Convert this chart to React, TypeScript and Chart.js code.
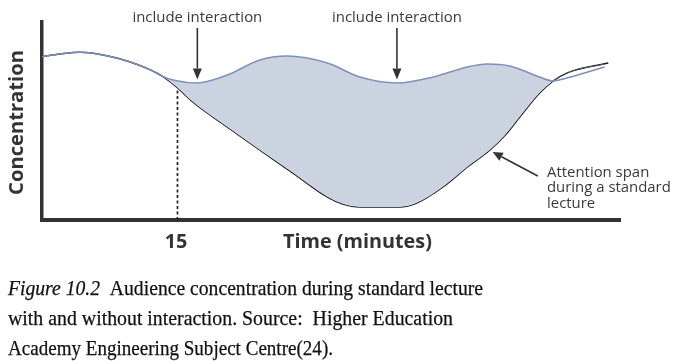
import React, { useEffect, useRef } from "react";
import { Chart, registerables } from "chart.js";

Chart.register(...registerables);

// Time in minutes (x) and concentration level (y, 0-100)
const standardX = [0, 2, 4.2, 7.2, 9.7, 12, 13.4, 14.9, 16.7, 20.5, 24.1, 27.8, 31.6, 33.3, 35.2, 39.6, 41.5, 44.4, 47.1, 49.6, 51.3, 52.9, 55.1, 56.6, 58.1, 62.7];
const standardY = [82.5, 83.8, 84.7, 83.0, 79.9, 75.8, 72.4, 67.2, 59.6, 47.0, 35.4, 23.7, 11.6, 8.1, 6.6, 6.6, 8.6, 16.7, 26.8, 35.4, 42.9, 52.0, 64.1, 70.2, 74.2, 79.3];

const interactionX = [0, 2, 4.2, 7.2, 9.7, 12, 13.4, 14.6, 17.2, 20.5, 24.1, 27.1, 31.6, 35.2, 39.3, 43.3, 47.1, 49.3, 51.8, 55.1, 56.6, 58.1, 62.3];
const interactionY = [82.5, 83.8, 84.7, 83.0, 79.9, 75.8, 72.4, 70.6, 69.2, 73.2, 80.8, 82.8, 79.3, 72.2, 69.2, 72.2, 77.3, 78.8, 77.8, 72.2, 70.2, 71.7, 77.3];

const markerX = [15, 15];
const markerY = [0, 67.2];

const interactionLabels = ["include interaction", "include interaction"];
const interactionArrowX = [17.2, 39.3];
const interactionArrowTopY = [97, 97];
const interactionArrowTipY = [71, 71];

const spanLabelLines = ["Attention span", "during a standard", "lecture"];
const spanArrowFrom = [54.9, 22.2];
const spanArrowTo = [49.9, 34.3];

const xTickValue = 15;
const xTickLabel = "15";
const xTitle = "Time (minutes)";
const yTitle = "Concentration";

const captionItalic = "Figure 10.2";
const captionLines = [
  "  Audience concentration during standard lecture",
  "with and without interaction. Source:  Higher Education",
  "Academy Engineering Subject Centre(24).",
];

const SANS = "'Open Sans', 'DejaVu Sans', sans-serif";
const SERIF = "'Liberation Serif', 'DejaVu Serif', serif";

function fitSize(ctx: CanvasRenderingContext2D, text: string, weight: string, family: string, target: number) {
  ctx.font = `${weight} 20px ${family}`;
  const w = ctx.measureText(text).width;
  return (20 * target) / w;
}

function drawArrow(ctx: CanvasRenderingContext2D, x1: number, y1: number, x2: number, y2: number, len: number, half: number) {
  const ang = Math.atan2(y2 - y1, x2 - x1);
  const bx = x2 - len * Math.cos(ang);
  const by = y2 - len * Math.sin(ang);
  ctx.beginPath();
  ctx.moveTo(x1, y1);
  ctx.lineTo(bx, by);
  ctx.stroke();
  ctx.beginPath();
  ctx.moveTo(x2, y2);
  ctx.lineTo(bx + half * Math.sin(ang), by - half * Math.cos(ang));
  ctx.lineTo(bx - half * Math.sin(ang), by + half * Math.cos(ang));
  ctx.closePath();
  ctx.fill();
}

const annotations = {
  id: "annotations",
  afterDraw(chart: any) {
    const ctx: CanvasRenderingContext2D = chart.ctx;
    const xs = chart.scales.x;
    const ys = chart.scales.y;
    ctx.save();
    ctx.fillStyle = "#333";
    ctx.strokeStyle = "#333";
    ctx.lineWidth = 1.6;

    // interaction arrows
    const s1 = fitSize(ctx, interactionLabels[0], "400", SANS, 130);
    interactionLabels.forEach((lab, i) => {
      const px = xs.getPixelForValue(interactionArrowX[i]);
      drawArrow(ctx, px, ys.getPixelForValue(interactionArrowTopY[i]), px, ys.getPixelForValue(interactionArrowTipY[i]), 11, 4.5);
      ctx.font = `400 ${s1}px ${SANS}`;
      ctx.textAlign = "center";
      ctx.textBaseline = "alphabetic";
      ctx.fillStyle = "#3a3a3a";
      ctx.fillText(lab, px, 22);
      ctx.fillStyle = "#333";
    });

    // attention span arrow
    const ax1 = xs.getPixelForValue(spanArrowFrom[0]);
    const ay1 = ys.getPixelForValue(spanArrowFrom[1]);
    const ax2 = xs.getPixelForValue(spanArrowTo[0]);
    const ay2 = ys.getPixelForValue(spanArrowTo[1]);
    drawArrow(ctx, ax1, ay1, ax2, ay2, 10, 4.5);
    const s2 = fitSize(ctx, spanLabelLines[1], "400", SANS, 124);
    ctx.font = `400 ${s2}px ${SANS}`;
    ctx.textAlign = "left";
    ctx.fillStyle = "#3a3a3a";
    spanLabelLines.forEach((l, i) => ctx.fillText(l, 547, 176.5 + i * 15.5));

    // axis labels
    ctx.fillStyle = "#333";
    const s3 = fitSize(ctx, xTitle, "700", SANS, 149);
    ctx.font = `700 ${s3}px ${SANS}`;
    ctx.textAlign = "left";
    ctx.fillText(xTitle, 283, 248);
    ctx.textAlign = "center";
    ctx.fillText(xTickLabel, xs.getPixelForValue(xTickValue) - 1.5, 248);

    const s4 = fitSize(ctx, yTitle, "700", SANS, 145);
    ctx.save();
    ctx.translate(23, 122.5);
    ctx.rotate(-Math.PI / 2);
    ctx.font = `700 ${s4}px ${SANS}`;
    ctx.textAlign = "center";
    ctx.fillText(yTitle, 0, 0);
    ctx.restore();

    // caption
    ctx.fillStyle = "#111";
    ctx.strokeStyle = "#111";
    ctx.lineWidth = 0.25;
    ctx.textAlign = "left";
    const targets = [475, 445, 325];
    const baselines = [294.5, 324.5, 354.5];
    captionLines.forEach((line, i) => {
      const parts: { t: string; f: string }[] = [];
      if (i === 0) parts.push({ t: captionItalic, f: `italic 21px ${SERIF}` });
      parts.push({ t: line, f: `21px ${SERIF}` });
      let total = 0;
      parts.forEach((p) => {
        ctx.font = p.f;
        total += ctx.measureText(p.t).width;
      });
      const sc = targets[i] / total;
      ctx.save();
      ctx.translate(8, baselines[i]);
      ctx.scale(sc, 1);
      let cx = 0;
      parts.forEach((p) => {
        ctx.font = p.f;
        ctx.fillText(p.t, cx, 0);
        ctx.strokeText(p.t, cx, 0);
        cx += ctx.measureText(p.t).width;
      });
      ctx.restore();
    });
    ctx.restore();
  },
};

export default function App() {
  const ref = useRef<HTMLCanvasElement | null>(null);
  useEffect(() => {
    if (!ref.current) return;
    const pts = (xa: number[], ya: number[]) => xa.map((x, i) => ({ x, y: ya[i] }));
    const chart = new Chart(ref.current, {
      type: "line",
      data: {
        datasets: [
          {
            label: "With interaction",
            data: pts(interactionX, interactionY),
            borderColor: "#7d91bd",
            borderWidth: 1.5,
            pointRadius: 0,
            cubicInterpolationMode: "monotone",
            fill: { target: 1, above: "#cbd2e0", below: "rgba(0,0,0,0)" },
          },
          {
            label: "Standard lecture",
            data: pts(standardX, standardY),
            borderColor: "#1c1c1c",
            borderWidth: 1.5,
            pointRadius: 0,
            cubicInterpolationMode: "monotone",
            fill: false,
          },
          {
            label: "marker",
            data: pts(markerX, markerY),
            borderColor: "#222",
            borderWidth: 1.7,
            borderDash: [3, 2.5],
            pointRadius: 0,
            fill: false,
          },
        ],
      },
      options: {
        animation: false,
        responsive: false,
        devicePixelRatio: 1,
        events: [],
        layout: { padding: { left: 42, right: 56, top: 22, bottom: 144 } },
        plugins: {
          legend: { display: false },
          tooltip: { enabled: false },
        },
        scales: {
          x: {
            type: "linear",
            min: 0,
            max: 64,
            grid: { display: false, drawTicks: false },
            ticks: { display: false },
            border: { display: true, color: "#333", width: 4 },
          },
          y: {
            type: "linear",
            min: 0,
            max: 100,
            grid: { display: false, drawTicks: false },
            ticks: { display: false },
            border: { display: true, color: "#333", width: 3.5 },
          },
        },
      },
      plugins: [annotations],
    });
    return () => chart.destroy();
  }, []);
  return (
    <div style={{ position: "fixed", left: 0, top: 0, width: 676, height: 364, background: "#fff" }}>
      <canvas ref={ref} width={676} height={364} style={{ display: "block", width: 676, height: 364 }} />
    </div>
  );
}
